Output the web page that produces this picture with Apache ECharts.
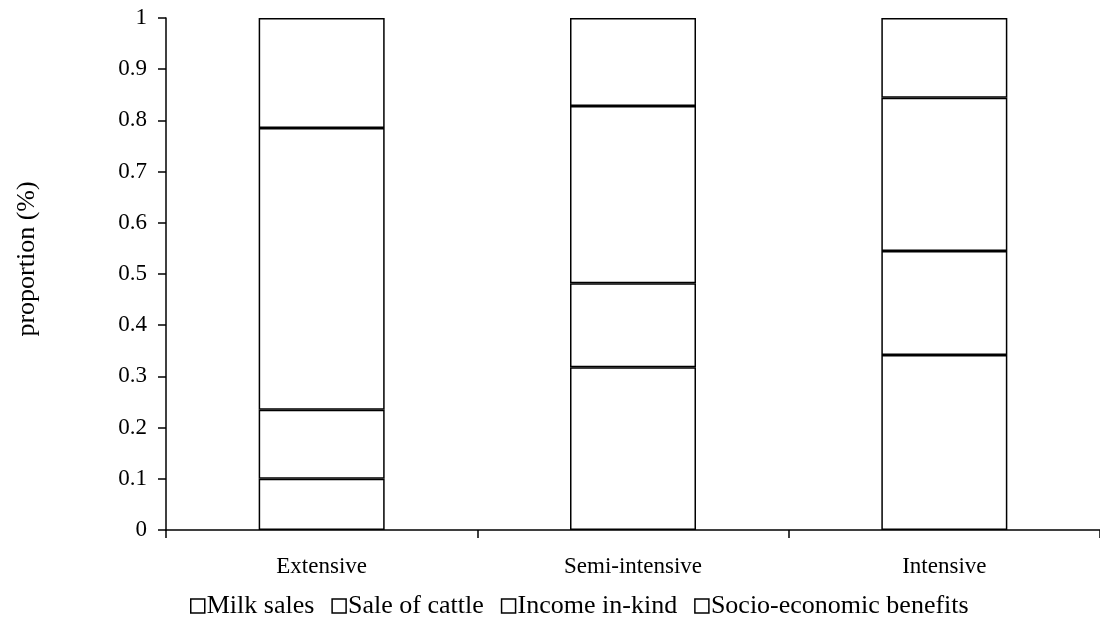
<!DOCTYPE html>
<html>
<head>
<meta charset="utf-8">
<script src="https://cdn.jsdelivr.net/npm/echarts@6/dist/echarts.min.js"></script>
<style>
html,body{margin:0;padding:0;background:#fff;}
#c{width:1100px;height:633px;}
</style>
</head>
<body>
<div id="c"></div>
<script>
const categories = ['Extensive', 'Semi-intensive', 'Intensive'];
const seriesNames = ['Milk sales', 'Sale of cattle', 'Income in-kind', 'Socio-economic benefits'];
const milkSales = [0.100, 0.318, 0.342];
const saleOfCattle = [0.135, 0.164, 0.203];
const incomeInKind = [0.550, 0.346, 0.299];
const socioEconomic = [0.215, 0.172, 0.156];
const yTicks = [0, 0.1, 0.2, 0.3, 0.4, 0.5, 0.6, 0.7, 0.8, 0.9, 1];

const seriesData = [milkSales, saleOfCattle, incomeInKind, socioEconomic];
const font = '"Liberation Serif", "Times New Roman", serif';

const chart = echarts.init(document.getElementById('c'), null, {renderer: 'canvas'});
chart.setOption({
  animation: false,
  backgroundColor: '#fff',
  textStyle: {fontFamily: font, color: '#000'},
  grid: {left: 166, right: -5, top: 18, bottom: 103, containLabel: false},
  legend: {
    top: 588,
    left: 185,
    itemWidth: 14,
    itemHeight: 14,
    itemGap: 17,
    icon: 'rect',
    data: seriesNames,
    textStyle: {fontFamily: font, fontSize: 26, color: '#000', padding: [0, 0, 0, -3]},
    itemStyle: {color: '#fff', borderColor: '#000', borderWidth: 1.5}
  },
  xAxis: {
    type: 'category',
    data: categories,
    axisLine: {lineStyle: {color: '#000', width: 1.5}},
    axisTick: {show: true, length: 8, lineStyle: {color: '#000', width: 1.5}},
    axisLabel: {fontFamily: font, fontSize: 23, color: '#000', margin: 25},
    splitLine: {show: false}
  },
  yAxis: {
    type: 'value',
    min: 0, max: 1, interval: 0.1,
    name: 'proportion (%)',
    nameLocation: 'middle',
    nameGap: 126,
    nameRotate: 90,
    nameTextStyle: {fontFamily: font, fontSize: 26, color: '#000', padding: [0, 0, 0, 30]},
    axisLine: {show: true, lineStyle: {color: '#000', width: 1.5}},
    axisTick: {show: true, length: 8, lineStyle: {color: '#000', width: 1.5}},
    axisLabel: {
      fontFamily: font, fontSize: 23, color: '#000', margin: 19,
      formatter: v => { const t = yTicks.find(x => Math.abs(x - v) < 1e-9); return String(t !== undefined ? t : v); }
    },
    splitLine: {show: false}
  },
  series: seriesNames.map((n, i) => ({
    name: n,
    type: 'bar',
    stack: 'total',
    barWidth: 126,
    data: seriesData[i],
    itemStyle: {color: '#fff', borderColor: '#000', borderWidth: 1.5}
  }))
});
</script>
</body>
</html>
